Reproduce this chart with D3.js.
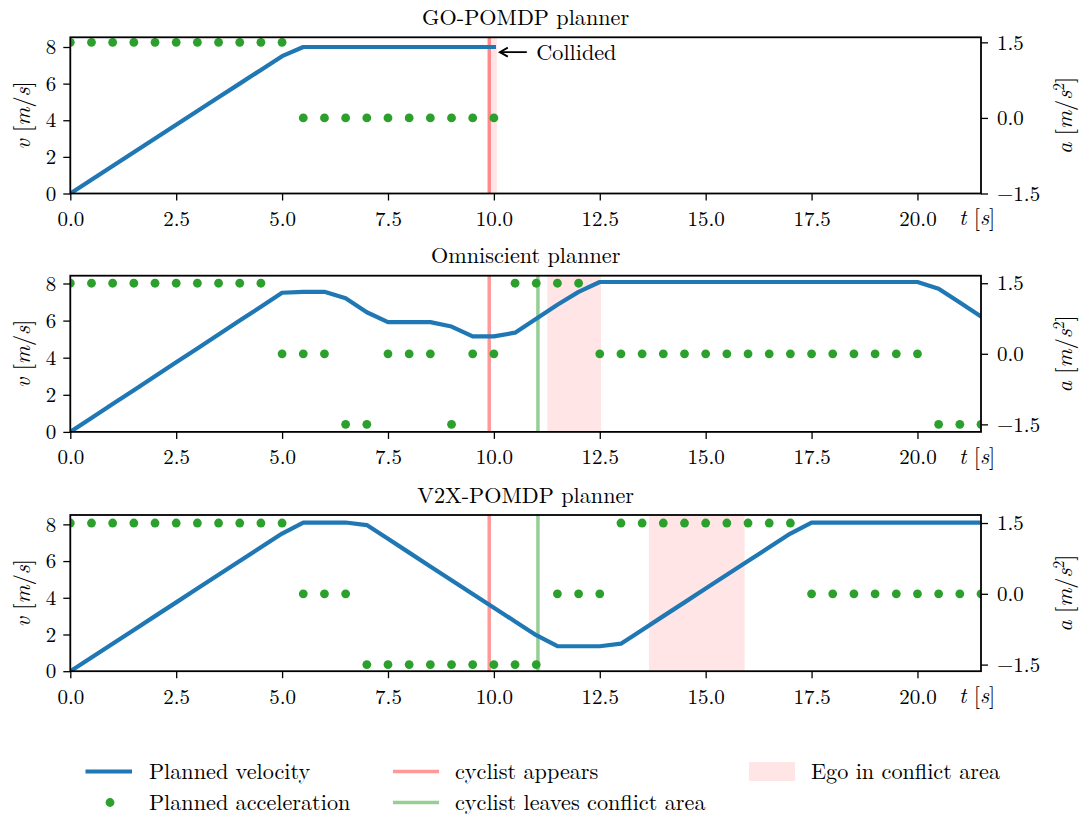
<!DOCTYPE html>
<html>
<head>
<meta charset="utf-8">
<script src="https://cdn.jsdelivr.net/npm/d3@7"></script>
<style>
  body { margin: 0; background: #fff; }
  svg { display: block; }
</style>
</head>
<body>
<svg id="chart" width="1079" height="814"></svg>
<script>
// ---- data -------------------------------------------------------------
// planning step times (s)
const timeGo = [0,0.5,1,1.5,2,2.5,3,3.5,4,4.5,5,5.5,6,6.5,7,7.5,8,8.5,9,9.5,10];
const timeFull = [0,0.5,1,1.5,2,2.5,3,3.5,4,4.5,5,5.5,6,6.5,7,7.5,8,8.5,9,9.5,10,
                  10.5,11,11.5,12,12.5,13,13.5,14,14.5,15,15.5,16,16.5,17,17.5,18,18.5,
                  19,19.5,20,20.5,21,21.5];

// GO-POMDP planner
const goVelocity = [0,0.75,1.5,2.25,3,3.75,4.5,5.25,6,6.75,7.5,8,8,8,8,8,8,8,8,8,8];
const goAccel    = [1.5,1.5,1.5,1.5,1.5,1.5,1.5,1.5,1.5,1.5,1.5,0,0,0,0,0,0,0,0,0,0];

// Omniscient planner
const omniVelocity = [0,0.75,1.5,2.25,3,3.75,4.5,5.25,6,6.75,7.5,
                      7.55,7.55,7.2,6.45,5.92,5.92,5.92,5.68,5.15,5.15,5.35,6.1,6.85,7.55,8.08,
                      8.08,8.08,8.08,8.08,8.08,8.08,8.08,8.08,8.08,8.08,8.08,8.08,8.08,8.08,8.08,
                      7.72,6.97,6.22];
const omniAccel = [1.5,1.5,1.5,1.5,1.5,1.5,1.5,1.5,1.5,1.5,
                   0,0,0,-1.5,-1.5,0,0,0,-1.5,0,0,1.5,1.5,1.5,1.5,
                   0,0,0,0,0,0,0,0,0,0,0,0,0,0,0,0,
                   -1.5,-1.5,-1.5];

// V2X-POMDP planner
const v2xVelocity = [0,0.75,1.5,2.25,3,3.75,4.5,5.25,6,6.75,7.5,
                     8.1,8.1,8.1,7.96,7.21,6.46,5.71,4.96,4.21,3.46,2.71,1.96,1.36,1.36,1.36,
                     1.5,2.25,3,3.75,4.5,5.25,6,6.75,7.5,
                     8.1,8.1,8.1,8.1,8.1,8.1,8.1,8.1,8.1];
const v2xAccel = [1.5,1.5,1.5,1.5,1.5,1.5,1.5,1.5,1.5,1.5,1.5,
                  0,0,0,
                  -1.5,-1.5,-1.5,-1.5,-1.5,-1.5,-1.5,-1.5,-1.5,
                  0,0,0,
                  1.5,1.5,1.5,1.5,1.5,1.5,1.5,1.5,1.5,
                  0,0,0,0,0,0,0,0,0];

// events (s)
const plannerTitles = ["GO-POMDP planner", "Omniscient planner", "V2X-POMDP planner"];
const cyclistAppears = [9.89, 9.89, 9.89];
const cyclistLeaves  = [null, 11.04, 11.04];
const egoInConflict  = [[9.86, 10.07], [11.26, 12.53], [13.66, 15.92]];

// collision annotation (t, v) in the first panel
const collisionPoint = [10.14, 7.72];
const collisionText  = "Collided";

// axis ticks
const timeTicks  = [0, 2.5, 5, 7.5, 10, 12.5, 15, 17.5, 20];
const speedTicks = [0, 2, 4, 6, 8];
const accelTicks = [-1.5, 0, 1.5];
const timeRange  = [0, 21.5];
const speedRanges = [[0, 8.53], [0, 8.42], [0, 8.51]];
const accelRanges = [[-1.5, 1.6], [-1.66, 1.66], [-1.64, 1.67]];

const legendLabels = ["Planned velocity", "Planned acceleration", "cyclist appears",
                      "cyclist leaves conflict area", "Ego in conflict area"];

// ---- layout -----------------------------------------------------------
const BLUE = "#1f77b4", GREEN = "#2ca02c";
const FONT = "'Latin Modern Roman', 'CMU Serif', 'Liberation Serif', serif";
const FS = 21;       // tick labels
const FL = 22.2;     // titles, axis labels, legend
const left = 70.3, right = 981;
const panelTops = [37.3, 275.7, 515];
const panelH = 156.2;

const svg = d3.select("#chart").attr("font-family", FONT);
const x = d3.scaleLinear().domain(timeRange).range([left, right]);

const panels = [
  { time: timeGo,   v: goVelocity,   a: goAccel },
  { time: timeFull, v: omniVelocity, a: omniAccel },
  { time: timeFull, v: v2xVelocity,  a: v2xAccel }
];

panels.forEach((p, i) => {
  const top = panelTops[i], bottom = top + panelH;
  const yV = d3.scaleLinear().domain(speedRanges[i]).range([bottom, top]);
  const yA = d3.scaleLinear().domain(accelRanges[i]).range([bottom, top]);
  const g = svg.append("g");

  const clipId = "clip" + i;
  svg.append("clipPath").attr("id", clipId)
    .append("rect").attr("x", left).attr("y", top)
    .attr("width", right - left).attr("height", panelH);
  const plot = g.append("g").attr("clip-path", `url(#${clipId})`);

  // ego in conflict area
  const span = egoInConflict[i];
  plot.append("rect")
    .attr("x", x(span[0])).attr("width", x(span[1]) - x(span[0]))
    .attr("y", top).attr("height", panelH)
    .attr("fill", "red").attr("fill-opacity", 0.1);

  // cyclist event lines
  plot.append("line")
    .attr("x1", x(cyclistAppears[i])).attr("x2", x(cyclistAppears[i]))
    .attr("y1", top).attr("y2", bottom)
    .attr("stroke", "red").attr("stroke-opacity", 0.4).attr("stroke-width", 3.5);
  if (cyclistLeaves[i] !== null) {
    plot.append("line")
      .attr("x1", x(cyclistLeaves[i])).attr("x2", x(cyclistLeaves[i]))
      .attr("y1", top).attr("y2", bottom)
      .attr("stroke", GREEN).attr("stroke-opacity", 0.5).attr("stroke-width", 3.5);
  }

  // planned velocity
  const line = d3.line().x((d, k) => x(p.time[k])).y(d => yV(d));
  plot.append("path").datum(p.v)
    .attr("d", line)
    .attr("fill", "none").attr("stroke", BLUE).attr("stroke-width", 4.2)
    .attr("stroke-linecap", "square").attr("stroke-linejoin", "round");

  // planned acceleration
  plot.selectAll("circle.acc").data(p.a).join("circle")
    .attr("class", "acc")
    .attr("cx", (d, k) => x(p.time[k])).attr("cy", d => yA(d))
    .attr("r", 4.4).attr("fill", GREEN);

  // frame
  g.append("rect").attr("x", left).attr("y", top)
    .attr("width", right - left).attr("height", panelH)
    .attr("fill", "none").attr("stroke", "#000").attr("stroke-width", 1.8);

  // axes
  const styleAxis = sel => {
    sel.select(".domain").remove();
    sel.attr("font-size", FS).attr("font-family", FONT);
    sel.selectAll(".tick line").attr("stroke", "#000").attr("stroke-width", 1.3);
    sel.selectAll(".tick text").attr("fill", "#000");
  };
  g.append("g").attr("transform", `translate(0,${bottom})`)
    .call(d3.axisBottom(x).tickValues(timeTicks).tickFormat(d3.format(".1f"))
      .tickSize(7).tickPadding(10.5))
    .call(styleAxis);
  g.append("g").attr("transform", `translate(${left},0)`)
    .call(d3.axisLeft(yV).tickValues(speedTicks).tickFormat(d3.format("d"))
      .tickSize(7).tickPadding(7))
    .call(styleAxis);
  g.append("g").attr("transform", `translate(${right},0)`)
    .call(d3.axisRight(yA).tickValues(accelTicks).tickFormat(d3.format(".1f"))
      .tickSize(7).tickPadding(9))
    .call(styleAxis);

  // title
  g.append("text").attr("x", (left + right) / 2).attr("y", top - 12.5)
    .attr("text-anchor", "middle").attr("font-size", FL).text(plannerTitles[i]);

  // t [s]
  const tl = g.append("text").attr("x", 959).attr("y", bottom + 31.7).attr("font-size", FL);
  tl.append("tspan").attr("font-style", "italic").text("t");
  tl.append("tspan").text(" [");
  tl.append("tspan").attr("font-style", "italic").text("s");
  tl.append("tspan").text("]");

  // v [m/s]
  const mid = top + panelH / 2;
  const vl = g.append("text").attr("transform", `translate(30,${mid}) rotate(-90)`)
    .attr("text-anchor", "middle").attr("font-size", FL);
  vl.append("tspan").attr("font-style", "italic").text("v");
  vl.append("tspan").text(" [");
  vl.append("tspan").attr("font-style", "italic").text("m");
  vl.append("tspan").text("/");
  vl.append("tspan").attr("font-style", "italic").text("s");
  vl.append("tspan").text("]");

  // a [m/s^2]
  const al = g.append("text").attr("transform", `translate(1072,${mid}) rotate(-90)`)
    .attr("text-anchor", "middle").attr("font-size", FL);
  al.append("tspan").attr("font-style", "italic").text("a");
  al.append("tspan").text(" [");
  al.append("tspan").attr("font-style", "italic").text("m");
  al.append("tspan").text("/");
  al.append("tspan").attr("font-style", "italic").text("s");
  al.append("tspan").attr("font-size", FL * 0.7).attr("dy", -8).text("2");
  al.append("tspan").attr("dy", 8).text("]");

  // collision annotation
  if (i === 0) {
    const tipX = x(collisionPoint[0]), tipY = yV(collisionPoint[1]);
    const tailX = tipX + 27;
    g.append("line").attr("x1", tipX + 1).attr("y1", tipY).attr("x2", tailX).attr("y2", tipY)
      .attr("stroke", "#000").attr("stroke-width", 1.8);
    g.append("path")
      .attr("d", `M${tipX + 8},${tipY - 4.5} L${tipX},${tipY} L${tipX + 8},${tipY + 4.5}`)
      .attr("fill", "none").attr("stroke", "#000").attr("stroke-width", 1.8);
    g.append("text").attr("x", tailX + 9.5).attr("y", tipY + 7.5)
      .attr("font-size", FL).text(collisionText);
  }
});

// ---- legend -----------------------------------------------------------
const leg = svg.append("g").attr("font-size", FL);
const row1 = 771.5, row2 = 802.5;
// Planned velocity
leg.append("line").attr("x1", 85.5).attr("x2", 132).attr("y1", row1).attr("y2", row1)
  .attr("stroke", BLUE).attr("stroke-width", 4.2);
leg.append("text").attr("x", 149).attr("y", row1 + 7).text(legendLabels[0]);
// Planned acceleration
leg.append("circle").attr("cx", 110).attr("cy", row2).attr("r", 4.4).attr("fill", GREEN);
leg.append("text").attr("x", 149).attr("y", row2 + 7).text(legendLabels[1]);
// cyclist appears
leg.append("line").attr("x1", 393).attr("x2", 439).attr("y1", row1).attr("y2", row1)
  .attr("stroke", "red").attr("stroke-opacity", 0.4).attr("stroke-width", 3.5);
leg.append("text").attr("x", 455).attr("y", row1 + 7).text(legendLabels[2]);
// cyclist leaves conflict area
leg.append("line").attr("x1", 393).attr("x2", 439).attr("y1", row2).attr("y2", row2)
  .attr("stroke", GREEN).attr("stroke-opacity", 0.5).attr("stroke-width", 3.5);
leg.append("text").attr("x", 455).attr("y", row2 + 7).text(legendLabels[3]);
// Ego in conflict area
leg.append("rect").attr("x", 749).attr("y", 762).attr("width", 46).attr("height", 19)
  .attr("fill", "red").attr("fill-opacity", 0.1);
leg.append("text").attr("x", 811).attr("y", row1 + 7).text(legendLabels[4]);
</script>
</body>
</html>
